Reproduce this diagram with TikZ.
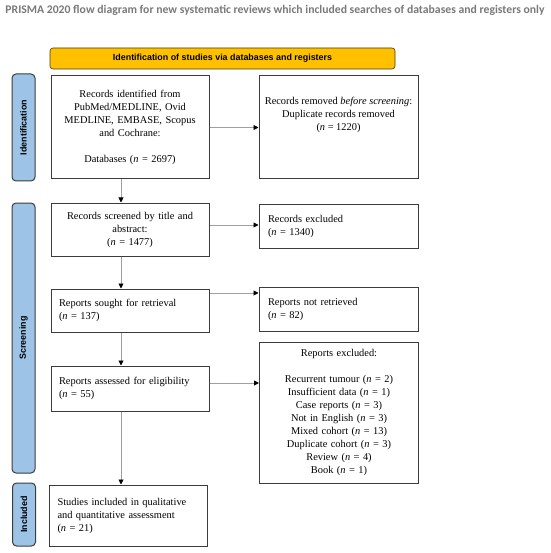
\documentclass[tikz,border=0pt]{standalone}
\usepackage{fontspec}
\setmainfont{Liberation Serif}
\setsansfont{Liberation Sans}
\newfontfamily\titlefont{Carlito}
\usetikzlibrary{arrows.meta,positioning}

\begin{document}
\begin{tikzpicture}[x=1pt,y=-1pt,font=\fontsize{10.4}{13}\selectfont]
\definecolor{prismaorange}{RGB}{255,192,0}
\definecolor{stageblue}{RGB}{157,195,230}
\definecolor{boxline}{RGB}{60,60,60}
\tikzset{
 pbox/.style={draw=boxline,line width=1pt,fill=white,inner ysep=0pt,
  minimum height=#1},
 cbox/.style={pbox=#1,align=center,inner xsep=4pt,text width=150pt},
 lbox/.style={pbox=#1,align=left,inner xsep=8pt,text width=142pt},
 stage/.style={draw=boxline,line width=1pt,fill=stageblue,rounded corners=4pt,
  rotate=90,minimum height=23pt,minimum width=#1,inner sep=0pt,
  font=\sffamily\bfseries\fontsize{8.9}{10}\selectfont},
 flow/.style={draw=gray!75,line width=0.9pt,
  -{Triangle[color=black,length=5pt,width=5pt]}}
}
\useasboundingbox (0,0) rectangle (550,553);
\node[text=gray!95!black,font=\titlefont\bfseries\fontsize{11.7}{13}\selectfont]
 (title) at (275,10) {PRISMA 2020 flow diagram for new systematic reviews which included searches of databases and registers only};
\node[draw=black!70!prismaorange,line width=0.6pt,fill=prismaorange,rounded corners=3pt,
 minimum width=345pt,minimum height=21pt,inner sep=0pt,
 font=\sffamily\bfseries\fontsize{8.9}{10}\selectfont] (bar) at (222.5,58.5)
 {Identification of studies via databases and registers};
% stage labels on the left
\node[stage=107pt] (ident) at (23.5,127.5) {Identification};
\node[stage=270pt] (screen) at (23.5,338) {Screening};
\node[stage=63pt] (incl) at (24,514.5) {Included};
% main column
\node[cbox=103pt] (found) at (130,127.5) {Records identified from\\PubMed/MEDLINE, Ovid\\MEDLINE, EMBASE, Scopus\\and Cochrane:\\[13pt]Databases (\textit{n} = 2697)\hspace*{27pt}};
\node[cbox=53pt] (screened) at (130,229.5) {Records screened by title and\\abstract:\\(\textit{n} = 1477)};
\node[lbox=43pt] (sought) at (130,310.5) {Reports sought for retrieval\\(\textit{n} = 137)};
\node[lbox=45pt] (assessed) at (130,388.5) {Reports assessed for eligibility\\(\textit{n} = 55)};
\node[lbox=61pt] (included) at (128.5,515.5) {Studies included in qualitative\\and quantitative assessment\\(\textit{n} = 21)\\[4pt]};
% side column
\node[pbox=103pt,minimum width=159pt] (removed) at (338.5,127.5) {};
\node[inner sep=0pt,align=center,anchor=north] (removedtxt) at ([yshift=-21pt]removed.north)
 {Records removed \textit{before screening}:\\Duplicate records removed\\(\textit{n} = 1220)};
\node[lbox=44pt,text width=141pt,inner xsep=9pt] (excluded) at (338.5,226) {Records excluded\\(\textit{n} = 1340)};
\node[lbox=44pt,text width=141pt,inner xsep=9pt] (notret) at (338.5,309) {Reports not retrieved\\(\textit{n} = 82)};
\node[cbox=141pt,text width=151pt] (reasons) at (339,412.5) {Reports excluded:\\[13pt]Recurrent tumour (\textit{n} = 2)\\Insufficient data (\textit{n} = 1)\\Case reports (\textit{n} = 3)\\Not in English (\textit{n} = 3)\\Mixed cohort (\textit{n} = 13)\\Duplicate cohort (\textit{n} = 3)\\Review (\textit{n} = 4)\\Book (\textit{n} = 1)};
% connectors
\coordinate (spine) at (121,0);
\coordinate (rowb) at (0,225);
\coordinate (rowc) at (0,293);
\coordinate (rowd) at (0,383);
\draw[flow] (found.east) -- (removed.west |- found.east);
\draw[flow] (screened.east |- rowb) -- (excluded.west |- rowb);
\draw[flow] (sought.east |- rowc) -- (notret.west |- rowc);
\draw[flow] (assessed.east |- rowd) -- (reasons.west |- rowd);
\draw[flow] (spine |- found.south) -- (spine |- screened.north);
\draw[flow] (spine |- screened.south) -- (spine |- sought.north);
\draw[flow] (spine |- sought.south) -- (spine |- assessed.north);
\draw[flow] (spine |- assessed.south) -- (spine |- included.north);
\end{tikzpicture}
\end{document}
